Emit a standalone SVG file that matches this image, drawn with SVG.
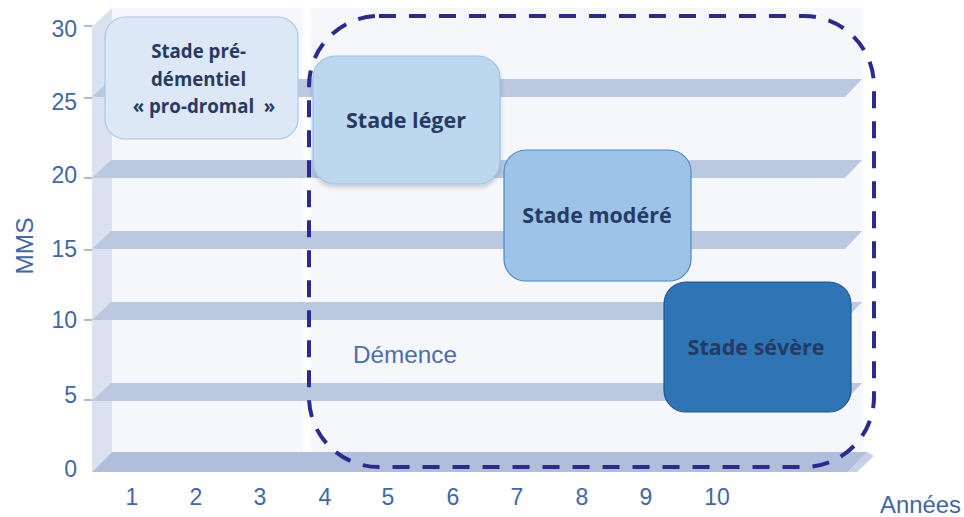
<svg xmlns="http://www.w3.org/2000/svg" width="964" height="517" viewBox="0 0 964 517">
  <defs>
    <filter id="shadow" x="-10%" y="-10%" width="120%" height="130%">
      <feDropShadow dx="0" dy="3" stdDeviation="2" flood-color="#000000" flood-opacity="0.18"/>
    </filter>
  </defs>
  <style>
    .wall { fill: #f5f7fb; }
    .side { fill: #dbe2ef; }
    .bar { fill: #bac8e0; }
    .tick { stroke: #8ea3c9; stroke-width: 1.5; }
    .axis { font-family: "Liberation Sans", Arial, sans-serif; font-size: 23px; fill: #4266a8; }
    .node-text { font-family: "Open Sans", "Liberation Sans", sans-serif; font-weight: 700; fill: #253a64; text-anchor: middle; }
    .frame { fill: none; stroke: #2b2b8f; stroke-width: 4; stroke-dasharray: 17 13; }
  </style>
  <rect width="964" height="517" fill="#ffffff"/>

  <g id="chart">
    <rect class="wall" x="112" y="8" width="191" height="444"/>
    <rect class="wall" x="311" y="8" width="552" height="444"/>
    <polygon class="side" points="92,27 112,8 112,452 92,472"/>
    <polygon class="bar" points="92,97 111,79 862,79 845,97"/>
    <polygon class="bar" points="92,178 111,160 862,160 845,178"/>
    <polygon class="bar" points="92,249 111,231 862,231 845,249"/>
    <polygon class="bar" points="92,320 111,302 862,302 845,320"/>
    <polygon class="bar" points="92,401 111,383 862,383 845,401"/>
    <polygon fill="#aebedb" points="92,472 112,452 867,452 848,472"/>
    <polygon fill="#c7d2e7" points="848,472 867,452 874,456 857,472"/>
    <g>
      <line class="tick" x1="84" y1="26" x2="92" y2="26"/>
      <line class="tick" x1="84" y1="98" x2="92" y2="98"/>
      <line class="tick" x1="84" y1="178" x2="92" y2="178"/>
      <line class="tick" x1="84" y1="250" x2="92" y2="250"/>
      <line class="tick" x1="84" y1="320" x2="92" y2="320"/>
      <line class="tick" x1="84" y1="400" x2="92" y2="400"/>
    </g>
    <g class="axis" text-anchor="end">
      <text x="77" y="37">30</text>
      <text x="77" y="110">25</text>
      <text x="77" y="183">20</text>
      <text x="77" y="257">15</text>
      <text x="77" y="328">10</text>
      <text x="77" y="403">5</text>
      <text x="77" y="477">0</text>
    </g>
    <g class="axis" text-anchor="middle">
      <text x="132" y="505">1</text>
      <text x="196" y="505">2</text>
      <text x="260" y="505">3</text>
      <text x="325" y="505">4</text>
      <text x="388" y="505">5</text>
      <text x="453" y="505">6</text>
      <text x="517" y="505">7</text>
      <text x="582" y="505">8</text>
      <text x="646" y="505">9</text>
      <text x="717" y="505">10</text>
    </g>
    <text class="axis" transform="translate(33,246) rotate(-90)" text-anchor="middle" font-size="24" textLength="57" lengthAdjust="spacingAndGlyphs">MMS</text>
    <text class="axis" x="880" y="513" font-size="24" textLength="81" lengthAdjust="spacingAndGlyphs">Années</text>
  </g>

  <g id="connectors"/>

  <g id="node-predementiel">
    <rect x="105" y="17" width="193" height="122" rx="20" fill="#dce8f5" stroke="#a8c8e8" stroke-width="1.2"/>
    <text class="node-text" font-size="18.7">
      <tspan x="201" y="58">Stade pré-</tspan>
      <tspan x="201" y="86">démentiel</tspan>
      <tspan x="204" y="113" xml:space="preserve">« pro-dromal  »</tspan>
    </text>
  </g>

  <g id="node-leger">
    <rect x="313" y="56" width="187" height="128" rx="22" fill="#bdd7ee" stroke="#9dc3e6" stroke-width="1.2" filter="url(#shadow)"/>
    <text class="node-text" x="406" y="128" font-size="21.5">Stade léger</text>
  </g>

  <g id="node-modere">
    <rect x="504" y="150" width="187" height="131" rx="22" fill="#9dc3e6" stroke="#4a89cc" stroke-width="1.2"/>
    <text class="node-text" x="597" y="223" font-size="21.5">Stade modéré</text>
  </g>

  <g id="node-severe">
    <rect x="664" y="282" width="187" height="130" rx="22" fill="#2e75b6" stroke="#1f5690" stroke-width="1.2"/>
    <text class="node-text" x="756" y="355" font-size="21.5" fill="#1f3864">Stade sévère</text>
  </g>

  <g id="node-demence">
    <rect class="frame" x="309" y="16" width="565" height="451" rx="70" ry="70"/>
    <text x="353" y="363" font-family="Liberation Sans, Arial, sans-serif" font-size="24" fill="#4a6db0" textLength="104" lengthAdjust="spacingAndGlyphs">Démence</text>
  </g>
</svg>
